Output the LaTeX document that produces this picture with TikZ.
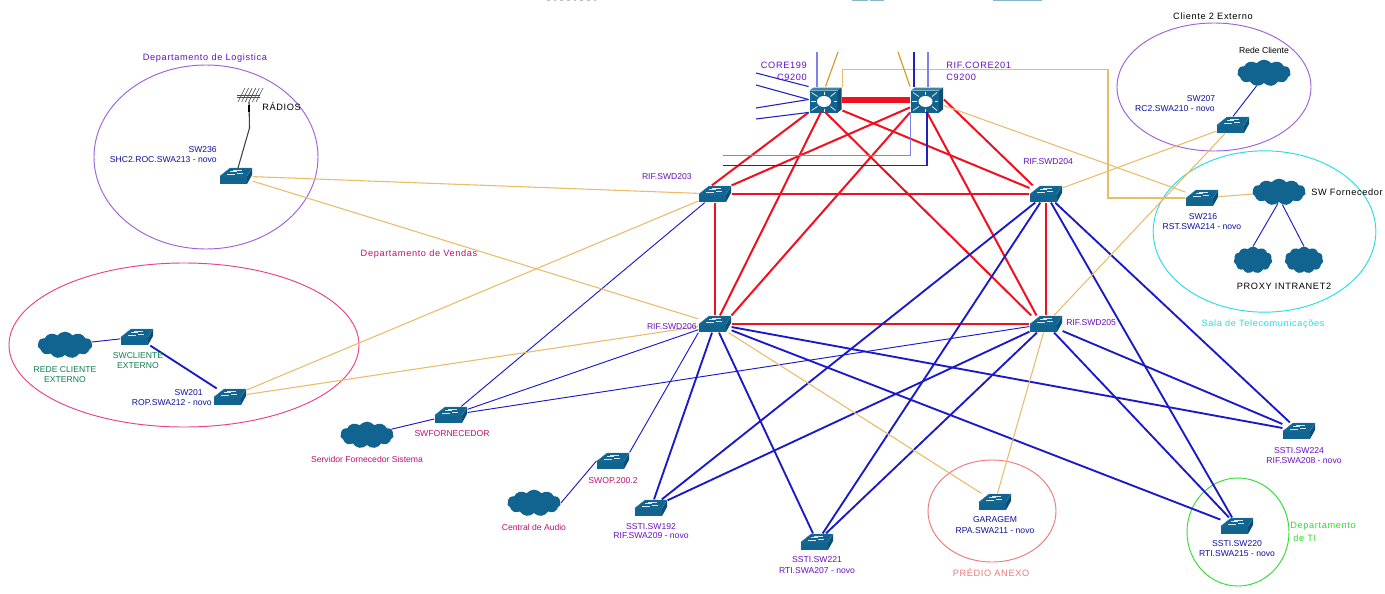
\documentclass[tikz,border=0pt]{standalone}
\usepackage{fontspec}
\setmainfont{Liberation Sans}
\newfontfamily\widef[LetterSpace=7]{Liberation Sans}
\usetikzlibrary{shapes.symbols,shapes.geometric,calc}
\definecolor{teal1}{HTML}{11648F}
\definecolor{teal2}{HTML}{0B4F74}
\definecolor{teal3}{HTML}{3C86A8}
\definecolor{lred}{HTML}{F01020}
\definecolor{lblue}{HTML}{1A1AC8}
\definecolor{lgold}{HTML}{E9BC68}
\definecolor{dgold}{HTML}{D29A20}
\definecolor{lav}{HTML}{8080E8}
\definecolor{dblue}{HTML}{2020C0}
\definecolor{tviolet}{HTML}{6A10C0}
\definecolor{tblue}{HTML}{10109A}
\definecolor{tmag}{HTML}{C01078}
\definecolor{tgreen}{HTML}{108050}
\definecolor{tcyan}{HTML}{25DDE5}
\definecolor{tsalmon}{HTML}{F07878}
\definecolor{tlime}{HTML}{30DD30}
\definecolor{epurple}{HTML}{A060D8}
\definecolor{epink}{HTML}{E8408C}
\tikzset{
  x=0.75pt,y=-0.75pt,
  swbox/.style={rectangle,minimum width=24.5pt,minimum height=12.5pt,inner sep=0pt},
  corebox/.style={rectangle,minimum width=25pt,minimum height=19pt,inner sep=0pt},
  netcloud/.style={cloud,cloud puffs=11,cloud puff arc=105,aspect=2,fill=teal1,inner sep=0pt,minimum width=#1,minimum height=20pt},
  txt/.style={inner sep=0pt,font=\fontsize{6.45pt}{7.7pt}\selectfont,align=center},
  wtxt/.style={inner sep=0pt,font=\fontsize{6.9pt}{8pt}\selectfont\widef,align=center},
  redl/.style={draw=lred,line width=1.5pt},
  bluel/.style={draw=lblue,line width=1.4pt},
  bluet/.style={draw=lblue,line width=0.7pt},
  goldl/.style={draw=lgold,line width=0.8pt},
  lavl/.style={draw=lav,line width=0.85pt},
  dbl/.style={draw=dblue,line width=0.8pt},
}
\newcommand\swit[3]{%
  \node[swbox] (#1) at (#2,#3) {};
  \begin{scope}[shift={(#2,#3)}]
    \fill[teal1] (-16,0) rectangle (11,8);
    \fill[teal2] (11,0) -- (16,-8) -- (16,-1) -- (11,8) -- cycle;
    \fill[teal1,draw=teal3,line width=0.3pt] (-16,0) -- (-6,-8) -- (16,-8) -- (11,0) -- cycle;
    \draw[white!85!teal1,line width=0.35pt] (-9,-2) -- (-1,-2) (-3,-6) -- (6,-6) (1,-2.5) -- (7,-2.5) (-6,-5) -- (1,-5);
  \end{scope}}
\newcommand\corsw[3]{%
  \node[corebox] (#1) at (#2,#3) {};
  \begin{scope}[shift={(#2,#3)}]
    \fill[teal1] (-16,-9) rectangle (12,13);
    \fill[teal2] (12,-9) -- (16,-12) -- (16,10) -- (12,13) -- cycle;
    \fill[teal3] (-16,-9) -- (-12,-12) -- (16,-12) -- (12,-9) -- cycle;
    \fill[white] (-1.5,2) ellipse (7 and 5.5);
    \foreach \a/\b/\c/\d in {-8/-3/-14/-7,5/-3/10/-7,-8/7/-14/11,5/7/10/11,-10/2/-15/2,8/2/11/2,-1.5/-5/-1.5/-8,-1.5/9/-1.5/12}
      \draw[white,line width=0.5pt] (\a,\b) -- (\c,\d);
  \end{scope}}
\begin{document}
\begin{tikzpicture}
\useasboundingbox (0,0) rectangle (1385,593);
\fill[white] (0,0) rectangle (1385,593);
% cropped remnants on the top edge
\draw[gray!50,line width=0.5pt,dash pattern=on 2pt off 3pt] (547,0.7) -- (596,0.7);
\draw[teal3!60,line width=0.6pt] (852,0.7) -- (868,0.7) (870,0.7) -- (884,0.7) (993,0.7) -- (1042,0.7);
% zones
\node[ellipse,draw=epurple,line width=0.7pt,minimum width=168pt,minimum height=138pt,inner sep=0pt] (zlog) at (206,157) {};
\node[ellipse,draw=epink,line width=0.7pt,minimum width=262.5pt,minimum height=123pt,inner sep=0pt] (zven) at (184,345) {};
\node[ellipse,draw=epurple,line width=0.7pt,minimum width=145.5pt,minimum height=96pt,inner sep=0pt] (zcli) at (1214,87) {};
\node[ellipse,draw=tcyan,line width=0.7pt,minimum width=167pt,minimum height=121pt,inner sep=0pt] (zsala) at (1264.5,231.5) {};
\node[ellipse,draw=tsalmon,line width=0.7pt,minimum width=96pt,minimum height=76.5pt,inner sep=0pt] (zpre) at (992,511) {};
\node[ellipse,draw=tlime,line width=0.7pt,minimum width=76.5pt,minimum height=81pt,inner sep=0pt] (zti) at (1238,532) {};
% devices
\corsw{c199}{825.5}{99.5}
\corsw{c201}{927}{99.5}
\swit{s203}{715}{194}
\swit{s204}{1046}{194}
\swit{s206}{715}{324}
\swit{s205}{1046}{324}
\swit{s236}{236}{176}
\swit{s207}{1233}{125}
\swit{s216}{1202}{198}
\swit{scl}{137}{337}
\swit{s201}{230}{397}
\swit{sfo}{451}{415}
\swit{sop}{613}{461}
\swit{s192}{651}{508}
\swit{s221}{817}{542}
\swit{sga}{995}{502}
\swit{s224}{1299}{431}
\swit{s220}{1237}{526}
% clouds
\node[netcloud=40pt] (crede) at (1264,73) {};
\node[netcloud=40pt] (cforn) at (1279,192) {};
\node[netcloud=29pt,aspect=1.4] (cprox) at (1253,260) {};
\node[netcloud=29pt,aspect=1.4] (cintr) at (1304,260) {};
\node[netcloud=41pt] (cext) at (65,345) {};
\node[netcloud=40pt] (cser) at (367,435) {};
\node[netcloud=40pt] (caud) at (534,503) {};
% free ends
\coordinate (st1) at (817,52);
\coordinate (st2) at (838,52);
\coordinate (st3) at (898,52);
\coordinate (st4) at (914,52);
\coordinate (st5) at (928,52);
\coordinate (lf1) at (756,73);
\coordinate (lf2) at (756,85);
\coordinate (lf3) at (756,108);
\coordinate (lf4) at (756,119);
\coordinate (ll1) at (723,155.4);
\coordinate (ll2) at (723,165.4);
\coordinate (gc1) at (1108,69.4);
\coordinate (ant1) at (249,102);
\coordinate (ant2) at (249.5,128);
% red
\draw[draw=lred,line width=4.5pt] (c199) -- (c201);
\draw[redl] (c199.south west) -- (s203.110);
\draw[redl] (c199.250) -- (s206.60);
\draw[redl] (c199.south) -- (s205.150);
\draw[redl] (c199.-33) -- (s204.160);
\draw[redl] (c201.205) -- (s203.north east);
\draw[redl] (c201.south west) -- (s206.north east);
\draw[redl] (c201.south) -- (s205.138);
\draw[redl] (c201.east) -- (s204.147);
\foreach \a/\b in {s203/s204,s203/s206,s204/s205,s206/s205}
  \draw[redl] (\a) -- (\b);
% blue
\foreach \a/\b in {s204/s192,s204/s221,s204/s224,s204/s220,s205/s192,s205/s221,s205/s224,s205/s220,s206/s192,s206/s221,s206/s224,s206/s220,s201/scl}
  \draw[bluel] (\a) -- (\b);
\foreach \a/\b in {s206/sfo,s203/sfo,s205/sfo,sfo/cser,scl/cext}
  \draw[bluet] (\a) -- (\b);
\draw[bluet] (s206.south west) -- (sop.north east);
\draw[bluet] (caud.east) -- (sop.west);
\draw[bluet] (s207.north) -- (crede.240);
\draw[bluet] (cforn.265) -- (cprox.north);
\draw[bluet] (cforn.285) -- (cintr.north);
% gold
\foreach \a/\b in {s236/s203,s236/s206,s201/s203,s201/s206,s206/sga,s205/sga,s205/s207,s204/s207,c201/s216,s216/cforn}
  \draw[goldl] (\a) -- (\b);
\draw[goldl] (c199.north east) |- (gc1) |- (s216.west);
% core stubs
\draw[lavl] (st1) -- (st1 |- c199.north);
\draw[draw=dgold,line width=0.85pt] (st2) -- (c199.north);
\draw[draw=dgold,line width=0.85pt] (st3) -- (c201.north west);
\draw[dbl] (st4) -- (st4 |- c201.north);
\draw[lavl] (st5) -- (st5 |- c201.north);
\draw[dbl] (lf1) -- (c199.north west);
\draw[dbl] (lf2) -- (c199.west);
\draw[dbl] (lf3) -- (c199.west);
\draw[dbl] (lf4) -- (c199.south west);
\draw[lavl] (c201.south west) |- (ll1);
\draw[dbl] (c201.south) |- (ll2);
% antenna
\draw[black!75,line width=0.8pt] (s236) ++(2,-8) -- (ant2) -- (ant1);
\draw[black,line width=1.6pt] (249,105) -- (249,112);
\foreach \i in {0,1,2,3,4,5}
  \draw[black!70,line width=0.45pt] ({238+\i*3.6},102) -- ({245+\i*3.6},88);
\draw[black!70,line width=0.45pt] (237,95) -- (260,95) (237,97) -- (260,97);
% texts
\node[wtxt,text=tviolet] (t01) at (205,58) {Departamento de Logistica};
\node[wtxt,text=black] (t02) at (1213,16) {Cliente 2 Externo};
\node[txt,text=black] (t03) at (1264,50) {Rede Cliente};
\node[wtxt,text=tmag] (t04) at (419,254) {Departamento de Vendas};
\node[txt,text=tblue,anchor=east] (t05) at (217,150) {SW236};
\node[txt,text=tblue,anchor=east] (t06) at (217,160) {SHC2.ROC.SWA213 - novo};
\node[wtxt,text=black,anchor=west] (t07) at (262,107) {RÁDIOS};
\node[wtxt,text=tviolet,anchor=east] (t08) at (807,65) {CORE199};
\node[wtxt,text=tviolet,anchor=east] (t09) at (807,77) {C9200};
\node[wtxt,text=tviolet,anchor=west] (t10) at (946,65) {RIF.CORE201};
\node[wtxt,text=tviolet,anchor=west] (t11) at (946,77) {C9200};
\node[txt,text=tviolet,anchor=east] (t12) at (692,177) {RIF.SWD203};
\node[txt,text=tviolet,anchor=west] (t13) at (1023,162) {RIF.SWD204};
\node[txt,text=tviolet,anchor=east] (t14) at (697,327) {RIF.SWD206};
\node[txt,text=tviolet,anchor=west] (t15) at (1066,323) {RIF.SWD205};
\node[txt,text=tblue] (t16) at (1201,99) {SW207};
\node[txt,text=tblue,anchor=east] (t17) at (1215,109) {RC2.SWA210 - novo};
\node[txt,text=tblue] (t18) at (1203,217) {SW216};
\node[txt,text=tblue] (t19) at (1202,227) {RST.SWA214 - novo};
\node[wtxt,text=black,anchor=west] (t20) at (1311,192) {SW Fornecedor};
\node[wtxt,text=black] (t21) at (1284,286) {PROXY INTRANET2};
\node[wtxt,text=tcyan] (t22) at (1263,324) {Sala de Telecomunicações};
\node[txt,text=tgreen] (t23) at (138,360.5) {SWCLIENTE\\EXTERNO};
\node[txt,text=tgreen] (t24) at (65,374.5) {REDE CLIENTE\\EXTERNO};
\node[txt,text=tblue,anchor=east] (t25) at (203,393) {SW201};
\node[txt,text=tblue,anchor=east] (t26) at (212,403) {ROP.SWA212 - novo};
\node[txt,text=tmag] (t27) at (452,434) {SWFORNECEDOR};
\node[txt,text=tmag] (t28) at (367,459) {Servidor Fornecedor Sistema};
\node[txt,text=tmag] (t29) at (613,481) {SWOP.200.2};
\node[txt,text=tmag] (t30) at (534,527) {Central de Audio};
\node[txt,text=tviolet] (t31) at (651,527) {SSTI.SW192};
\node[txt,text=tviolet] (t32) at (651,536) {RIF.SWA209 - novo};
\node[txt,text=tviolet] (t33) at (817,560) {SSTI.SW221};
\node[txt,text=tviolet] (t34) at (817,571) {RTI.SWA207 - novo};
\node[txt,text=tblue] (t35) at (995,520) {GARAGEM};
\node[txt,text=tblue] (t36) at (995,531) {RPA.SWA211 - novo};
\node[wtxt,text=tsalmon] (t37) at (991,573) {PRÉDIO ANEXO};
\node[txt,text=tviolet] (t38) at (1299,451) {SSTI.SW224};
\node[txt,text=tviolet] (t39) at (1304,461) {RIF.SWA208 - novo};
\node[txt,text=tblue] (t40) at (1237,544) {SSTI.SW220};
\node[txt,text=tblue] (t41) at (1237,554) {RTI.SWA215 - novo};
\node[wtxt,text=tlime,anchor=west] (t42) at (1290,526) {Departamento};
\node[wtxt,text=tlime,anchor=west] (t43) at (1293,538) {de TI};
\end{tikzpicture}
\end{document}
